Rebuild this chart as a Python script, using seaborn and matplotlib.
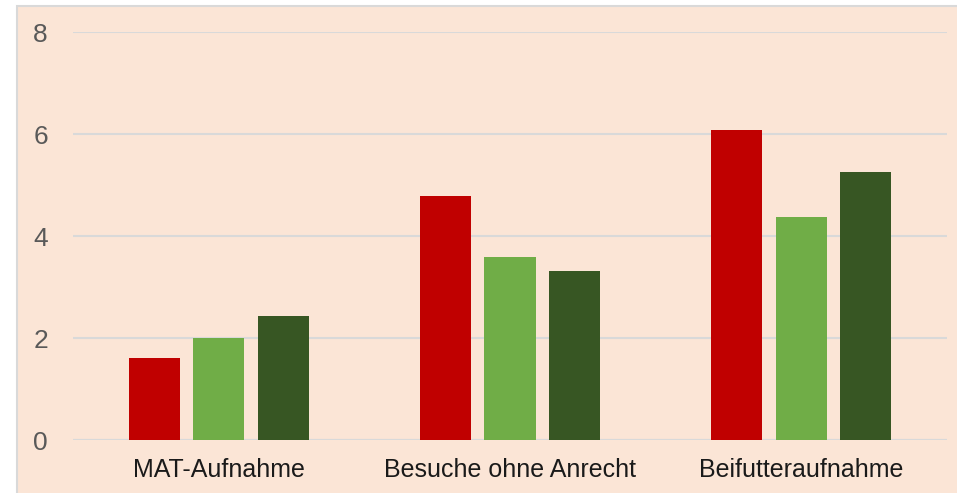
import pandas as pd
import seaborn as sns
import matplotlib.pyplot as plt
from matplotlib.patches import Rectangle

# Data
categories = ["MAT-Aufnahme", "Besuche ohne Anrecht", "Beifutteraufnahme"]
series = ["Serie 1", "Serie 2", "Serie 3"]
serie1 = [1.61, 4.78, 6.08]
serie2 = [2.00, 3.59, 4.37]
serie3 = [2.43, 3.31, 5.25]
colors = ["#C00000", "#70AD47", "#375623"]
yticks = [0, 2, 4, 6, 8]

df = pd.DataFrame({
    "category": categories * 3,
    "series": [series[0]] * 3 + [series[1]] * 3 + [series[2]] * 3,
    "value": serie1 + serie2 + serie3,
})

sns.set_style("white")
plt.rcParams["font.family"] = ["Liberation Sans", "DejaVu Sans"]

bg = "#FBE5D6"
fig = plt.figure(figsize=(9.57, 4.93), dpi=100)
fig.patch.set_facecolor("white")

# peach chart area with thin grey border on top/left
W, H = 957, 493
fig.patches.append(Rectangle((17 / W, -0.05), 1, 1.05 - 6 / H, transform=fig.transFigure,
                             facecolor=bg, edgecolor="#D9D9D9", linewidth=1.5, zorder=-10))

ax = fig.add_axes([73 / W, 1 - 440 / H, 874 / W, 408 / H])
ax.patch.set_alpha(0)

sns.barplot(data=df, x="category", y="value", hue="series", palette=colors,
            width=0.665, gap=0.21, ax=ax, legend=False, saturation=1, linewidth=0)

ax.set_ylim(0, 8)
ax.set_yticks(yticks)
ax.set_xlim(-0.5, 2.5)
ax.grid(axis="y", color="#D9D9D9", linewidth=1.5)
ax.set_axisbelow(True)
for s in ["top", "right", "left", "bottom"]:
    ax.spines[s].set_visible(False)
ax.axhline(0, color="#D6DCE4", linewidth=1.5, zorder=0.5)

ax.tick_params(axis="y", length=0, pad=18, labelsize=19, labelcolor="#595959")
ax.tick_params(axis="x", length=0, pad=13, labelsize=18, labelcolor="#1A1A1A")
ax.set_xlabel("")
ax.set_ylabel("")

plt.savefig("out.png", dpi=100, facecolor=fig.get_facecolor())
